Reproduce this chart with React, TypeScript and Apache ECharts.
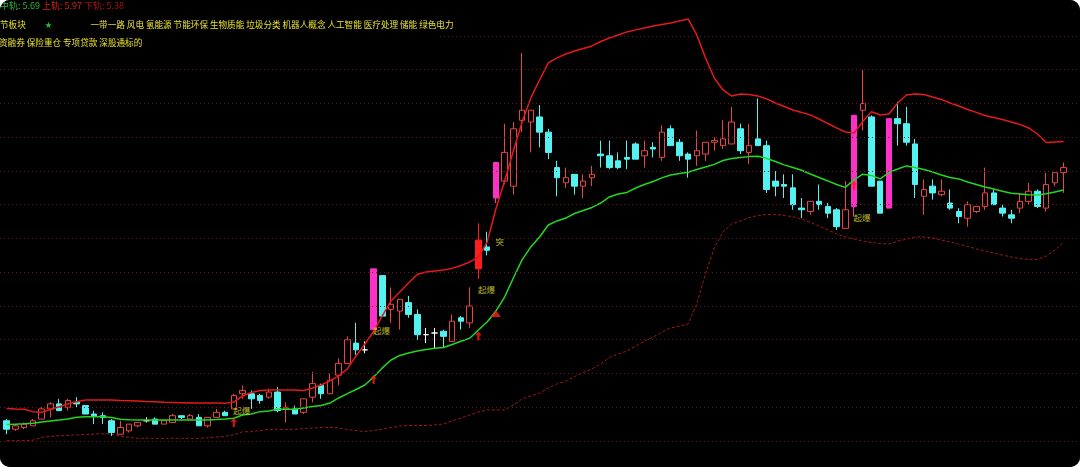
import React, { useEffect, useRef } from "react";
import * as echarts from "echarts";

// ---- daily candles (open / close / low / high) ----
const openP = [
  4.32, 4.27, 4.28, 4.29, 4.33, 4.39, 4.42, 4.40, 4.43, 4.41,
  4.36, 4.35, 4.32, 4.24, 4.26, 4.29, 4.32, 4.33, 4.30, 4.31,
  4.35, 4.33, 4.34, 4.29, 4.34, 4.37, 4.39, 4.48, 4.48, 4.47,
  4.46, 4.49, 4.39, 4.39, 4.37, 4.46, 4.53, 4.48, 4.59, 4.66,
  4.78, 4.74, 4.86, 5.18, 4.98, 4.97, 5.02, 4.95, 4.83, 4.84,
  4.85, 4.79, 4.93, 4.90, 5.22, 5.35, 5.64, 5.74, 5.71, 6.10,
  6.09, 6.12, 6.03, 5.82, 5.73, 5.78, 5.71, 5.76, 5.90, 5.89,
  5.86, 5.88, 5.96, 5.89, 5.94, 5.88, 6.05, 5.97, 5.90, 5.89,
  5.90, 5.97, 5.95, 5.96, 6.05, 5.91, 5.99, 5.95, 5.74, 5.72,
  5.70, 5.58, 5.56, 5.62, 5.59, 5.57, 5.46, 5.59, 6.16, 6.12,
  5.74, 5.58, 6.11, 6.08, 5.96, 5.65, 5.71, 5.66, 5.61, 5.56,
  5.52, 5.56, 5.59, 5.67, 5.58, 5.54, 5.58, 5.62, 5.68, 5.58,
  5.73, 5.79,
];
const closeP = [
  4.27, 4.29, 4.30, 4.32, 4.39, 4.42, 4.38, 4.44, 4.42, 4.36,
  4.35, 4.34, 4.25, 4.28, 4.30, 4.31, 4.32, 4.30, 4.32, 4.35,
  4.34, 4.35, 4.29, 4.34, 4.37, 4.35, 4.47, 4.50, 4.45, 4.44,
  4.49, 4.38, 4.40, 4.36, 4.45, 4.54, 4.48, 4.56, 4.66, 4.80,
  4.74, 4.74, 5.22, 4.94, 5.01, 5.04, 4.95, 4.83, 4.83, 4.84,
  4.82, 4.91, 4.91, 5.00, 5.39, 5.33, 5.85, 5.91, 6.05, 6.16,
  6.16, 6.03, 5.91, 5.76, 5.76, 5.71, 5.74, 5.78, 5.89, 5.82,
  5.82, 5.87, 5.87, 5.92, 5.93, 6.03, 5.95, 5.89, 5.87, 5.92,
  5.97, 5.98, 5.99, 6.09, 5.92, 5.95, 5.95, 5.69, 5.71, 5.71,
  5.60, 5.57, 5.62, 5.60, 5.55, 5.47, 5.57, 6.13, 6.20, 5.71,
  5.55, 6.11, 6.08, 5.97, 5.72, 5.69, 5.67, 5.68, 5.58, 5.53,
  5.60, 5.59, 5.67, 5.60, 5.55, 5.52, 5.62, 5.68, 5.59, 5.72,
  5.79, 5.82,
];
const lowP = [
  4.24, 4.26, 4.27, 4.29, 4.33, 4.34, 4.38, 4.38, 4.40, 4.36,
  4.30, 4.30, 4.23, 4.24, 4.25, 4.28, 4.31, 4.30, 4.30, 4.31,
  4.33, 4.33, 4.29, 4.28, 4.34, 4.35, 4.39, 4.45, 4.39, 4.42,
  4.45, 4.37, 4.31, 4.36, 4.36, 4.43, 4.45, 4.48, 4.53, 4.66,
  4.71, 4.72, 4.86, 4.94, 4.90, 4.86, 4.93, 4.80, 4.78, 4.75,
  4.75, 4.79, 4.86, 4.87, 5.16, 5.30, 5.61, 5.72, 5.66, 6.03,
  5.91, 5.94, 5.87, 5.65, 5.70, 5.66, 5.64, 5.71, 5.82, 5.81,
  5.81, 5.81, 5.87, 5.82, 5.88, 5.86, 5.95, 5.86, 5.76, 5.83,
  5.86, 5.92, 5.93, 5.96, 5.90, 5.84, 5.95, 5.67, 5.65, 5.64,
  5.57, 5.52, 5.54, 5.57, 5.52, 5.45, 5.46, 5.53, 6.04, 5.71,
  5.55, 5.58, 5.95, 5.95, 5.64, 5.54, 5.63, 5.65, 5.57, 5.49,
  5.47, 5.55, 5.57, 5.60, 5.53, 5.49, 5.55, 5.60, 5.58, 5.56,
  5.71, 5.67,
];
const highP = [
  4.33, 4.30, 4.31, 4.33, 4.40, 4.43, 4.45, 4.45, 4.46, 4.41,
  4.38, 4.37, 4.33, 4.32, 4.30, 4.31, 4.34, 4.34, 4.32, 4.36,
  4.35, 4.36, 4.36, 4.34, 4.39, 4.38, 4.48, 4.53, 4.50, 4.48,
  4.51, 4.52, 4.43, 4.41, 4.45, 4.61, 4.54, 4.60, 4.69, 4.82,
  4.90, 4.79, 5.22, 5.18, 5.11, 5.04, 5.06, 4.98, 4.87, 4.87,
  4.86, 4.95, 4.94, 5.11, 5.49, 5.44, 5.85, 6.08, 6.09, 6.50,
  6.16, 6.19, 6.05, 5.86, 5.82, 5.78, 5.78, 5.83, 5.98, 5.98,
  5.91, 5.98, 5.97, 5.98, 5.97, 6.07, 6.07, 5.99, 5.91, 6.04,
  5.97, 6.00, 6.10, 6.18, 6.08, 6.08, 6.23, 5.98, 5.80, 5.78,
  5.78, 5.64, 5.62, 5.72, 5.61, 5.58, 5.74, 6.13, 6.40, 6.13,
  5.74, 6.11, 6.21, 6.18, 5.99, 5.75, 5.75, 5.75, 5.69, 5.58,
  5.62, 5.59, 5.82, 5.69, 5.60, 5.57, 5.67, 5.73, 5.69, 5.79,
  5.79, 5.85,
];

// ---- bands ----
const upperBand = [
  4.393, 4.390, 4.388, 4.374, 4.370, 4.387, 4.403, 4.419, 4.433, 4.443,
  4.443, 4.443, 4.443, 4.440, 4.439, 4.437, 4.434, 4.433, 4.429, 4.428,
  4.427, 4.425, 4.425, 4.425, 4.425, 4.423, 4.431, 4.467, 4.487, 4.499,
  4.502, 4.502, 4.502, 4.502, 4.499, 4.514, 4.532, 4.556, 4.585, 4.627,
  4.704, 4.775, 4.849, 4.941, 5.030, 5.083, 5.136, 5.187, 5.201, 5.207,
  5.213, 5.223, 5.240, 5.261, 5.290, 5.379, 5.575, 5.741, 5.918, 6.090,
  6.233, 6.339, 6.440, 6.470, 6.493, 6.511, 6.526, 6.541, 6.567, 6.588,
  6.606, 6.624, 6.636, 6.647, 6.659, 6.668, 6.677, 6.689, 6.701, 6.606,
  6.470, 6.351, 6.280, 6.244, 6.256, 6.253, 6.244, 6.227, 6.203, 6.182,
  6.161, 6.147, 6.132, 6.108, 6.081, 6.055, 6.031, 6.025, 6.093, 6.151,
  6.132, 6.138, 6.203, 6.250, 6.256, 6.253, 6.238, 6.224, 6.203, 6.185,
  6.164, 6.147, 6.129, 6.117, 6.105, 6.090, 6.076, 6.055, 6.019, 5.969,
  5.972, 5.974,
];
const midBand = [
  4.298, 4.300, 4.302, 4.305, 4.313, 4.319, 4.324, 4.330, 4.341, 4.344,
  4.344, 4.344, 4.339, 4.329, 4.326, 4.324, 4.324, 4.324, 4.324, 4.324,
  4.324, 4.324, 4.324, 4.325, 4.327, 4.330, 4.335, 4.354, 4.360, 4.374,
  4.378, 4.388, 4.388, 4.388, 4.396, 4.404, 4.410, 4.425, 4.455, 4.481,
  4.505, 4.532, 4.579, 4.633, 4.680, 4.707, 4.721, 4.733, 4.742, 4.749,
  4.754, 4.772, 4.791, 4.809, 4.858, 4.905, 4.970, 5.053, 5.166, 5.273,
  5.350, 5.409, 5.480, 5.504, 5.521, 5.548, 5.566, 5.584, 5.610, 5.646,
  5.664, 5.673, 5.699, 5.720, 5.738, 5.759, 5.776, 5.785, 5.792, 5.809,
  5.824, 5.839, 5.862, 5.874, 5.880, 5.885, 5.887, 5.874, 5.856, 5.836,
  5.821, 5.804, 5.782, 5.761, 5.741, 5.720, 5.703, 5.747, 5.781, 5.773,
  5.753, 5.791, 5.812, 5.830, 5.821, 5.809, 5.794, 5.776, 5.761, 5.753,
  5.735, 5.720, 5.705, 5.693, 5.680, 5.668, 5.664, 5.659, 5.658, 5.665,
  5.676, 5.687,
];
const lowerBand = [
  4.202, 4.202, 4.203, 4.205, 4.221, 4.228, 4.231, 4.233, 4.236, 4.239,
  4.241, 4.243, 4.241, 4.230, 4.221, 4.216, 4.216, 4.216, 4.216, 4.216,
  4.216, 4.216, 4.216, 4.219, 4.224, 4.228, 4.236, 4.255, 4.255, 4.262,
  4.268, 4.269, 4.269, 4.269, 4.274, 4.277, 4.280, 4.281, 4.277, 4.268,
  4.262, 4.256, 4.262, 4.270, 4.280, 4.288, 4.292, 4.292, 4.292, 4.295,
  4.301, 4.319, 4.336, 4.354, 4.372, 4.384, 4.384, 4.384, 4.413, 4.449,
  4.467, 4.484, 4.514, 4.538, 4.556, 4.582, 4.606, 4.627, 4.656, 4.695,
  4.716, 4.733, 4.763, 4.793, 4.816, 4.846, 4.870, 4.881, 4.893, 5.012,
  5.190, 5.344, 5.439, 5.486, 5.504, 5.524, 5.536, 5.542, 5.543, 5.536,
  5.529, 5.516, 5.495, 5.474, 5.450, 5.427, 5.409, 5.397, 5.385, 5.376,
  5.370, 5.367, 5.385, 5.395, 5.409, 5.409, 5.403, 5.391, 5.379, 5.367,
  5.353, 5.338, 5.326, 5.314, 5.302, 5.290, 5.281, 5.276, 5.276, 5.296,
  5.332, 5.378,
];

// ---- special candles & signals ----
const magentaDays = [42, 56, 97, 101];
const solidRedDays = [54];
const qibaoDays = [26, 42, 54, 97];
const qibaoLevels = [4.381, 4.858, 5.101, 5.527];
const arrowDays = [26, 42, 54, 97];
const arrowLevels = [4.309, 4.565, 4.822, 5.714];
const breakDays = [56];
const breakLevels = [5.385];
const triangleDays = [56];
const triangleLevels = [4.956];

// ---- horizontal price grid & axis range ----
const gridLevels = [4.2, 4.4, 4.6, 4.8, 5.0, 5.2, 5.4, 5.6, 5.8, 6.0, 6.2, 6.4, 6.6];
const yMin = 4.046;
const yMax = 6.813;

// ---- header texts ----
const sectorLabel = "节板块";
const conceptTags = ["一带一路", "风电", "氢能源", "节能环保", "生物质能", "垃圾分类", "机器人概念", "人工智能", "医疗处理", "储能", "绿色电力"];
const extraTags = ["资融券", "保险重仓", "专项贷款", "深股通标的"];

const dayLabels = openP.map((_, i) => "D" + (i + 1));

const C_UP = "#e84545";
const C_DOWN = "#55f2f2";
const C_MAG = "#ff30c8";
const C_REDFILL = "#ff1c1c";
const C_UPPER = "#e41a1a";
const C_MID = "#22d822";
const C_LOWER = "#a01818";
const C_GRID = "#6a1a1a";
const C_YEL = "#e8e030";
const FONT = '"Noto Sans CJK SC", "Noto Sans", sans-serif';
const ARROW = "path://M5,0 L10,5 L6.6,5 L6.6,12 L3.4,12 L3.4,5 L0,5 Z";

export default function App() {
  const ref = useRef<HTMLDivElement>(null);

  useEffect(() => {
    if (!ref.current) return;
    const chart = echarts.init(ref.current, undefined, { renderer: "svg" });

    const candleData = openP.map((o, i) => {
      const c = closeP[i];
      const item: any = { value: [o, c, lowP[i], highP[i]] };
      let col: string | null = null;
      if (magentaDays.includes(i)) col = C_MAG;
      else if (solidRedDays.includes(i)) col = C_REDFILL;
      else if (o === c) col = "#ffffff";
      if (col) {
        item.itemStyle = { color: col, color0: col, borderColor: col, borderColor0: col, borderColorDoji: col };
      }
      return item;
    });

    const fmt = (v: number) => v.toFixed(2);
    const last = openP.length - 1;

    const option: any = {
      animation: false,
      backgroundColor: "#000",
      grid: [
        { left: 2.33, right: 11.97, top: 0, bottom: 0 },
        { left: 0, right: 0, top: 0, bottom: 0 },
      ],
      xAxis: [
        { type: "category", data: dayLabels, boundaryGap: true, show: false, gridIndex: 0 },
        { type: "value", min: 0, max: 1, show: false, gridIndex: 1 },
      ],
      yAxis: [
        { type: "value", min: yMin, max: yMax, show: false, splitLine: { show: false }, gridIndex: 0 },
        { type: "value", min: yMin, max: yMax, show: false, splitLine: { show: false }, gridIndex: 1 },
      ],
      series: [
        {
          name: "grid",
          type: "line",
          xAxisIndex: 1,
          yAxisIndex: 1,
          data: [[0, yMin]],
          symbol: "none",
          lineStyle: { opacity: 0 },
          z: 0,
          markLine: {
            silent: true,
            symbol: ["none", "none"],
            label: { show: false },
            lineStyle: { color: C_GRID, width: 1, type: [1, 3] },
            data: gridLevels.map((v) => ({ yAxis: v })),
          },
        },
        {
          name: "下轨",
          type: "line",
          data: lowerBand,
          symbol: "none",
          z: 1,
          lineStyle: { color: C_LOWER, width: 1, type: [3, 2] },
        },
        {
          name: "K",
          type: "candlestick",
          data: candleData,
          barWidth: 6,
          z: 2,
          itemStyle: {
            color: "#000",
            color0: C_DOWN,
            borderColor: C_UP,
            borderColor0: C_DOWN,
            borderWidth: 1,
          },
        },
        {
          name: "上轨",
          type: "line",
          data: upperBand,
          symbol: "none",
          z: 3,
          lineStyle: { color: C_UPPER, width: 1.5 },
        },
        {
          name: "中轨",
          type: "line",
          data: midBand,
          symbol: "none",
          z: 3,
          lineStyle: { color: C_MID, width: 1.5 },
        },
        {
          name: "arrow",
          type: "scatter",
          data: arrowDays.map((d, k) => [d, arrowLevels[k]]),
          symbol: ARROW,
          symbolSize: [7, 9],
          itemStyle: { color: "#ff1a1a" },
          z: 5,
        },
        {
          name: "tri",
          type: "scatter",
          data: triangleDays.map((d, k) => [d, triangleLevels[k]]),
          symbol: "triangle",
          symbolSize: [10, 7],
          itemStyle: { color: "#ff2020" },
          z: 5,
        },
        {
          name: "qibao",
          type: "scatter",
          data: qibaoDays.map((d, k) => [d, qibaoLevels[k]]),
          symbolSize: 1,
          itemStyle: { color: "transparent" },
          z: 6,
          label: {
            show: true,
            position: "inside",
            offset: [8, 0],
            formatter: "起爆",
            color: C_YEL,
            fontSize: 8.5,
            fontFamily: FONT,
          },
        },
        {
          name: "tu",
          type: "scatter",
          data: breakDays.map((d, k) => [d, breakLevels[k]]),
          symbolSize: 1,
          itemStyle: { color: "transparent" },
          z: 6,
          label: {
            show: true,
            position: "inside",
            offset: [4, 0],
            formatter: "突",
            color: C_YEL,
            fontSize: 8.5,
            fontFamily: FONT,
          },
        },
      ],
      graphic: [
        { type: "rect", shape: { x: 0, y: 29, width: 440, height: 18 }, style: { fill: "#000" }, z: 50 },
        {
          type: "text",
          x: 0,
          y: 5,
          z: 60,
          style: {
            text: `{g|中轨: ${fmt(midBand[last])}} {r|上轨: ${fmt(upperBand[last])}} {d|下轨: ${fmt(lowerBand[last])}}`,
            font: `9px ${FONT}`,
            verticalAlign: "middle",
            rich: {
              g: { fill: "#2fb52f", fontSize: 9, fontFamily: FONT },
              r: { fill: "#d52020", fontSize: 9, fontFamily: FONT },
              d: { fill: "#a81414", fontSize: 9, fontFamily: FONT },
            },
          },
        },
        {
          type: "text",
          x: 0,
          y: 23.5,
          z: 60,
          style: { text: sectorLabel, fill: C_YEL, font: `8.6px ${FONT}`, verticalAlign: "middle" },
        },
        {
          type: "text",
          x: 45,
          y: 23.5,
          z: 60,
          style: { text: "★", fill: "#26c026", font: `7px ${FONT}`, verticalAlign: "middle" },
        },
        {
          type: "text",
          x: 90.5,
          y: 23.5,
          z: 60,
          style: { text: conceptTags.join(" "), fill: C_YEL, font: `8.6px ${FONT}`, verticalAlign: "middle" },
        },
        {
          type: "text",
          x: -1,
          y: 42,
          z: 60,
          style: { text: extraTags.join(" "), fill: C_YEL, font: `8.6px ${FONT}`, verticalAlign: "middle" },
        },
      ],
    };

    chart.setOption(option);
    return () => {
      chart.dispose();
    };
  }, []);

  return (
    <div
      style={{
        position: "fixed",
        left: 0,
        top: 0,
        width: 1080,
        height: 467,
        borderRadius: 10,
        overflow: "hidden",
        background: "#000",
      }}
    >
      <div ref={ref} style={{ width: 1080, height: 467 }} />
    </div>
  );
}
